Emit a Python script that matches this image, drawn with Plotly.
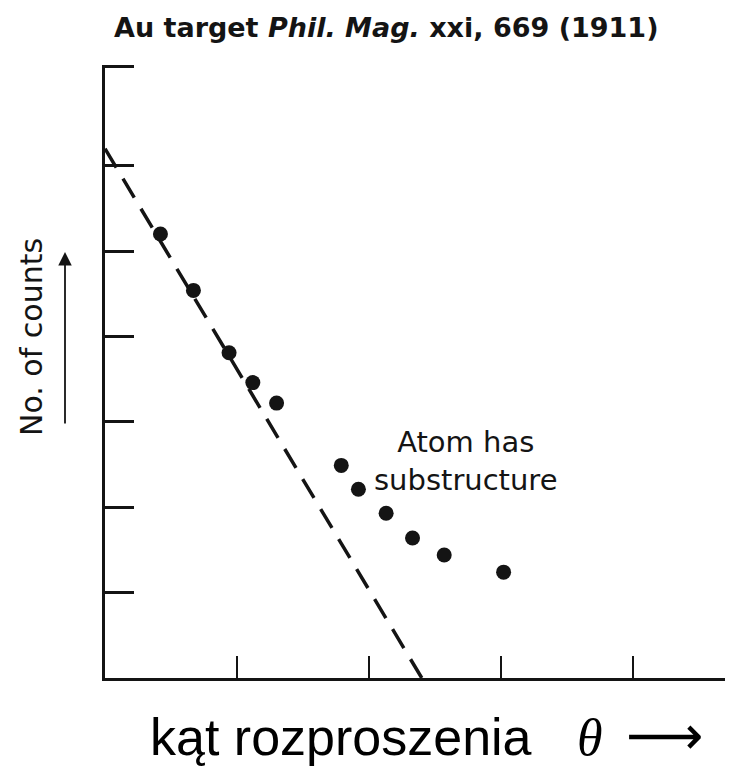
import plotly.graph_objects as go

# ---- data ----
angle = [0.42, 0.67, 0.94, 1.12, 1.30, 1.79, 1.92, 2.13, 2.33, 2.57, 3.02]
counts = [5.20, 4.54, 3.81, 3.46, 3.22, 2.49, 2.21, 1.93, 1.64, 1.44, 1.24]
# expectation without substructure: straight dashed line
model_angle = [0.0, 2.40]
model_counts = [6.20, 0.0]
x_ticks = [1, 2, 3, 4]
y_ticks = [1, 2, 3, 4, 5, 6, 7.16]

X_MAX = 4.758
Y_MAX = 7.18

# the page body has an 8 px margin; the figure is laid out so that
# screen pixels match the reference picture
OFF = 8
SW, SH = 733, 766            # screen size
W, H = SW - OFF, SH - OFF    # figure size
L_s, T_s, B_s = 105, 65, 678  # plot area edges on screen
L = L_s - OFF
T = T_s - OFF
B = H - (B_s - OFF)
R = 0
PW, PH = W - L - R, H - T - B


def px(xs):
    return (xs - OFF - L) / PW


def py(ys):
    return (H - B - (ys - OFF)) / PH


INK = "#141414"

fig = go.Figure()
fig.add_trace(go.Scatter(
    x=model_angle, y=model_counts, mode="lines",
    line=dict(color=INK, width=3.5, dash="22px,13px"),
    hoverinfo="skip", showlegend=False, cliponaxis=False))
fig.add_trace(go.Scatter(
    x=angle, y=counts, mode="markers",
    marker=dict(color=INK, size=15, line=dict(width=0)),
    showlegend=False, cliponaxis=False))

annotations = [
    dict(text="Au target <i>Phil.</i> <i>Mag.</i> xxi, 669 (1911)",
         x=px(386), y=py(28), xref="paper", yref="paper",
         xanchor="center", yanchor="middle", showarrow=False,
         font=dict(family="DejaVu Sans", size=27, color=INK, weight="bold")),
    dict(text="Atom has<br>substructure",
         x=px(466), y=py(461), xref="paper", yref="paper",
         xanchor="center", yanchor="middle", showarrow=False,
         font=dict(family="DejaVu Sans", size=29, color=INK)),
    dict(text="No. of counts", textangle=-90,
         x=px(31), y=py(337), xref="paper", yref="paper",
         xanchor="center", yanchor="middle", showarrow=False,
         font=dict(family="DejaVu Sans", size=30, color=INK)),
    dict(text="", x=px(65), y=py(252), xref="paper", yref="paper",
         ax=0, ay=173, axref="pixel", ayref="pixel",
         showarrow=True, arrowhead=2, arrowsize=1.5, arrowwidth=1.8,
         arrowcolor=INK),
    dict(text="kąt rozproszenia",
         x=px(148), y=py(737), xref="paper", yref="paper",
         xanchor="left", yanchor="middle", showarrow=False,
         font=dict(family="Liberation Sans", size=52, color="#000000")),
    dict(text="<i>θ</i>",
         x=px(590), y=py(737), xref="paper", yref="paper",
         xanchor="center", yanchor="middle", showarrow=False,
         font=dict(family="Liberation Serif", size=52, color="#000000")),
    dict(text="⟶",
         x=px(664), y=py(735), xref="paper", yref="paper",
         xanchor="center", yanchor="middle", showarrow=False,
         font=dict(family="DejaVu Sans", size=54, color="#000000")),
]

fig.update_layout(
    width=W, height=H,
    margin=dict(l=L, r=R, t=T, b=B, pad=0),
    paper_bgcolor="white", plot_bgcolor="white",
    showlegend=False,
    annotations=annotations,
    xaxis=dict(range=[0, X_MAX], showgrid=False, zeroline=False,
               showline=True, linecolor=INK, linewidth=3,
               ticks="inside", tickvals=x_ticks, ticklen=22, tickwidth=2,
               tickcolor=INK, showticklabels=False, fixedrange=True),
    yaxis=dict(range=[0, Y_MAX], showgrid=False, zeroline=False,
               showline=True, linecolor=INK, linewidth=3,
               ticks="inside", tickvals=y_ticks, ticklen=29, tickwidth=2.5,
               tickcolor=INK, showticklabels=False, fixedrange=True),
)

fig.write_html("out.html")
